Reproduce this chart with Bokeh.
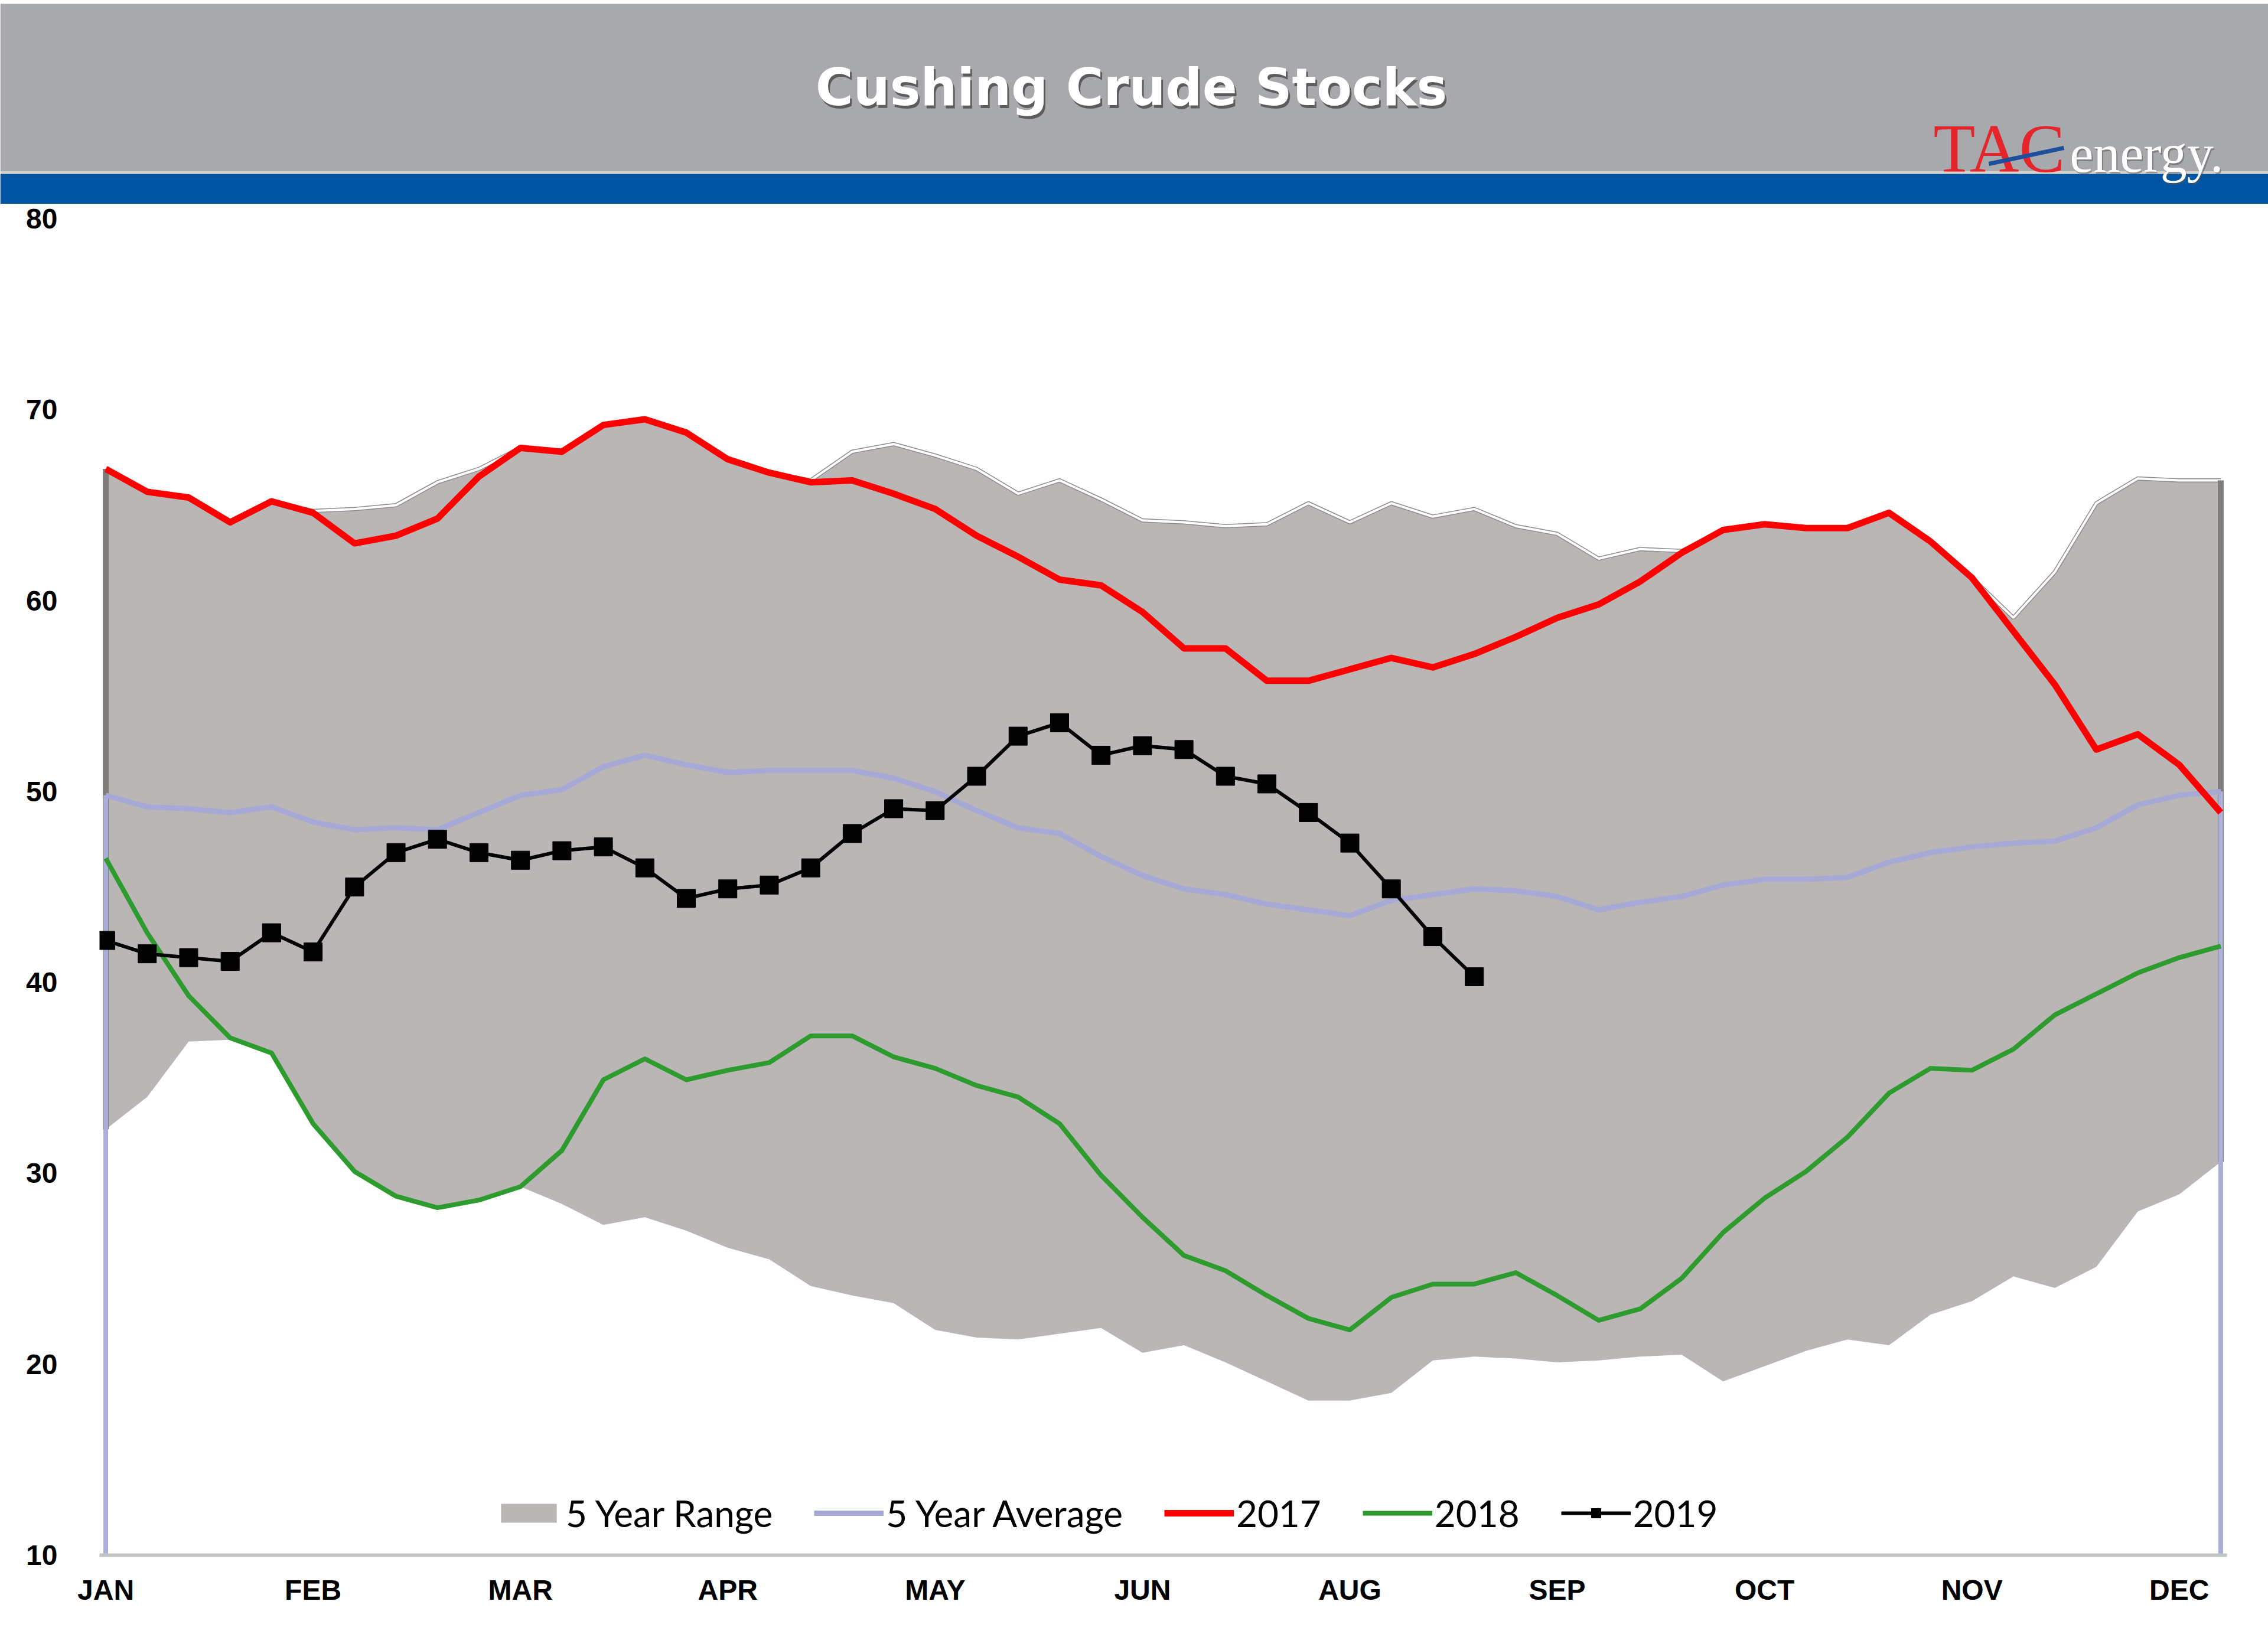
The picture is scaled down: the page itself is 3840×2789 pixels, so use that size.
from bokeh.plotting import figure
from bokeh.models import Range1d, FixedTicker, Legend, LegendItem
from bokeh.embed import file_html
from bokeh.resources import INLINE
from bokeh.core.properties import value

# ---------------- data (million barrels, weekly) ----------------
weeks = list(range(52))

range_low = [32.3, 34.0, 36.9, 37.0, 36.3, 32.6, 30.1, 28.8, 28.2, 28.6,
             29.3, 28.4, 27.3, 27.7, 27.0, 26.1, 25.5, 24.1, 23.6, 23.2,
             21.8, 21.4, 21.3, 21.6, 21.9, 20.6, 21.0, 20.1, 19.1, 18.1,
             18.1, 18.5, 20.2, 20.4, 20.3, 20.1, 20.2, 20.4, 20.5, 19.1,
             19.9, 20.7, 21.3, 21.0, 22.6, 23.3, 24.6, 24.0, 25.1, 28.0,
             28.9, 30.6]

range_high = [66.9, 65.7, 65.4, 64.1, 65.2, 64.7, 64.8, 65.0, 66.2, 66.9,
              68.0, 67.8, 69.2, 69.5, 68.8, 67.4, 66.7, 66.3, 67.8, 68.2,
              67.6, 66.9, 65.6, 66.3, 65.3, 64.2, 64.1, 63.9, 64.0, 65.1,
              64.1, 65.1, 64.4, 64.8, 63.9, 63.5, 62.2, 62.7, 62.6, 63.7,
              64.0, 63.8, 63.8, 64.6, 63.1, 61.2, 59.1, 61.5, 65.1, 66.4,
              66.3, 66.3]

avg_5yr = [49.8, 49.2, 49.1, 48.9, 49.2, 48.4, 48.0, 48.1, 48.0, 48.9,
           49.8, 50.1, 51.3, 51.9, 51.4, 51.0, 51.1, 51.1, 51.1, 50.7,
           50.0, 49.0, 48.1, 47.8, 46.6, 45.6, 44.9, 44.6, 44.1, 43.8,
           43.5, 44.3, 44.6, 44.9, 44.8, 44.5, 43.8, 44.2, 44.5, 45.1,
           45.4, 45.4, 45.5, 46.3, 46.8, 47.1, 47.3, 47.4, 48.1, 49.3,
           49.8, 50.0]

stocks_2017 = [66.9, 65.7, 65.4, 64.1, 65.2, 64.6, 63.0, 63.4, 64.3, 66.5,
               68.0, 67.8, 69.2, 69.5, 68.8, 67.4, 66.7, 66.2, 66.3, 65.6,
               64.8, 63.4, 62.3, 61.1, 60.8, 59.4, 57.5, 57.5, 55.8, 55.8,
               56.4, 57.0, 56.5, 57.2, 58.1, 59.1, 59.8, 61.0, 62.5, 63.7,
               64.0, 63.8, 63.8, 64.6, 63.1, 61.2, 58.4, 55.6, 52.2, 53.0,
               51.4, 48.9]

stocks_2018 = [46.5, 42.6, 39.3, 37.1, 36.3, 32.6, 30.1, 28.8, 28.2, 28.6,
               29.3, 31.2, 34.9, 36.0, 34.9, 35.4, 35.8, 37.2, 37.2, 36.1,
               35.5, 34.6, 34.0, 32.6, 29.9, 27.7, 25.7, 24.9, 23.6, 22.4,
               21.8, 23.5, 24.2, 24.2, 24.8, 23.6, 22.3, 22.9, 24.5, 26.9,
               28.7, 30.1, 31.9, 34.2, 35.5, 35.4, 36.5, 38.3, 39.4, 40.5,
               41.3, 41.9]

stocks_2019 = [42.2, 41.5, 41.3, 41.1, 42.6, 41.6, 45.0, 46.8, 47.5, 46.8,
               46.4, 46.9, 47.1, 46.0, 44.4, 44.9, 45.1, 46.0, 47.8, 49.1,
               49.0, 50.8, 52.9, 53.6, 51.9, 52.4, 52.2, 50.8, 50.4, 48.9,
               47.3, 44.9, 42.4, 40.3]
weeks_2019 = weeks[:len(stocks_2019)]

month_ticks = [0, 5, 10, 15, 20, 25, 30, 35, 40, 45, 50]
month_labels = ["JAN", "FEB", "MAR", "APR", "MAY", "JUN", "AUG", "SEP", "OCT", "NOV", "DEC"]
y_ticks = [10, 20, 30, 40, 50, 60, 70, 80]
y_min, y_max = 10, 80

title_text = "Cushing Crude Stocks"

# ---------------- header (separate root, page-wide) ----------------
W = 3840
HH = 345
h = figure(width=W, height=HH, x_range=Range1d(0, W), y_range=Range1d(0, HH),
           x_axis_type=None, y_axis_type=None, toolbar_location=None,
           output_backend="svg", min_border=0)
h.outline_line_color = None
h.background_fill_color = "white"
h.border_fill_color = "white"
h.quad(left=[0], right=[W], bottom=[55], top=[HH - 6], fill_color="#a7a9ac", line_color=None)
h.quad(left=[0], right=[W], bottom=[51], top=[55], fill_color="#d8d4cc", line_color=None)
h.quad(left=[0], right=[W], bottom=[0], top=[51], fill_color="#0054a4", line_color=None)

# title with soft shadow
h.text(x=[1915], y=[198], text=[title_text], text_align="center", text_baseline="middle",
       text_font_size="87px", text_font_style="bold", text_font=value("DejaVu Sans"),
       text_color="#3c3c3c", text_alpha=0.7, x_offset=3, y_offset=5)
h.text(x=[1915], y=[198], text=[title_text], text_align="center", text_baseline="middle",
       text_font_size="87px", text_font_style="bold", text_font=value("DejaVu Sans"),
       text_color="white")

# logo
h.text(x=[3273], y=[94], text=["TAC"], text_align="left", text_baseline="middle",
       text_font_size="116px", text_font=value("Liberation Serif"), text_color="#e4262c")
h.segment(x0=[3367], y0=[68], x1=[3494], y1=[95], line_color="#1d4f9c", line_width=7)
h.text(x=[3504], y=[85], text=["energy."], text_align="left", text_baseline="middle",
       text_font_size="90px", text_font=value("Liberation Serif"), text_color="#555555",
       text_alpha=0.5, x_offset=2, y_offset=3)
h.text(x=[3504], y=[85], text=["energy."], text_align="left", text_baseline="middle",
       text_font_size="90px", text_font=value("Liberation Serif"), text_color="white")

# ---------------- main chart ----------------
p = figure(width=W, height=2444, x_range=Range1d(-0.15, 51.15), y_range=Range1d(y_min, y_max),
           toolbar_location=None, output_backend="svg",
           min_border_left=168, min_border_right=70, min_border_top=25, min_border_bottom=156)
p.outline_line_color = None
p.xgrid.visible = False
p.ygrid.visible = False
p.background_fill_color = "white"
p.border_fill_color = "white"

# 5 year range
r_range = p.varea(x=weeks, y1=range_low, y2=range_high, fill_color="#bab6b5")
p.line(weeks, range_high, line_color="#8f8b8b", line_width=7)
p.line(weeks, range_high, line_color="white", line_width=4)
edge_x = [weeks[0], weeks[-1]]
p.segment(x0=edge_x, y0=[range_low[0], range_low[-1]], x1=edge_x,
          y1=[range_high[0], range_high[-1]], line_color="#7f7c7c", line_width=10)
p.segment(x0=edge_x, y0=[y_min, y_min], x1=edge_x, y1=[avg_5yr[0], avg_5yr[-1]],
          line_color="#aaaed8", line_width=8)

r_avg = p.line(weeks, avg_5yr, line_color="#a6a9d5", line_width=9, line_join="round")
r17 = p.line(weeks, stocks_2017, line_color="#ff0000", line_width=11, line_join="round")
r18 = p.line(weeks, stocks_2018, line_color="#2e9b2e", line_width=8, line_join="round")
r19 = p.line(weeks_2019, stocks_2019, line_color="black", line_width=6, line_join="round")
r19m = p.scatter(weeks_2019, stocks_2019, marker="square", size=31, fill_color="black",
                 line_color="black")

# axes
p.yaxis.ticker = FixedTicker(ticks=y_ticks)
p.yaxis.axis_line_color = None
p.yaxis.major_tick_line_color = None
p.yaxis.minor_tick_line_color = None
p.yaxis.major_label_text_font = "Liberation Sans"
p.yaxis.major_label_text_font_style = "bold"
p.yaxis.major_label_text_font_size = "48px"
p.yaxis.major_label_text_color = "black"
p.yaxis.major_label_standoff = 65

p.xaxis.ticker = FixedTicker(ticks=month_ticks)
p.xaxis.major_label_overrides = {t: lbl for t, lbl in zip(month_ticks, month_labels)}
p.xaxis.axis_line_color = "#c4c4c4"
p.xaxis.axis_line_width = 6
p.xaxis.major_tick_line_color = None
p.xaxis.minor_tick_line_color = None
p.xaxis.major_label_text_font = "Liberation Sans"
p.xaxis.major_label_text_font_style = "bold"
p.xaxis.major_label_text_font_size = "48px"
p.xaxis.major_label_text_color = "black"
p.xaxis.major_label_standoff = 26

legend = Legend(items=[
    LegendItem(label="5 Year Range", renderers=[r_range]),
    LegendItem(label="5 Year Average", renderers=[r_avg]),
    LegendItem(label="2017", renderers=[r17]),
    LegendItem(label="2018", renderers=[r18]),
    LegendItem(label="2019", renderers=[r19, r19m]),
], orientation="horizontal", location=(668, 34))
legend.background_fill_alpha = 0
legend.border_line_color = None
legend.label_text_font = "Lato"
legend.label_text_font_size = "62px"
legend.label_text_color = "black"
legend.glyph_width = 118
legend.glyph_height = 40
legend.label_standoff = 4
legend.spacing = 70
legend.padding = 0
legend.margin = 0
p.add_layout(legend)

open("out.html", "w").write(file_html([h, p], INLINE, title="Cushing Crude Stocks"))
